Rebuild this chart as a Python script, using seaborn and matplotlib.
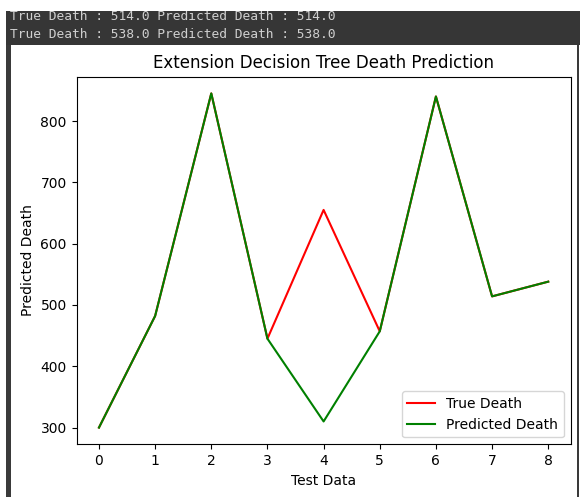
import matplotlib
matplotlib.use("Agg")
import matplotlib.pyplot as plt
import seaborn as sns
import pandas as pd
from matplotlib.patches import Rectangle

# ---- data ----
test_index = [0, 1, 2, 3, 4, 5, 6, 7, 8]
true_death = [300, 482, 845, 445, 655, 457, 840, 514, 538]
predicted_death = [300, 482, 845, 445, 310, 457, 840, 514, 538]
console_lines = [
    "True Death : 514.0 Predicted Death : 514.0",
    "True Death : 538.0 Predicted Death : 538.0",
]
title = "Extension Decision Tree Death Prediction"

W, H = 580, 497
fig = plt.figure(figsize=(W / 100, H / 100), dpi=100)
fig.patch.set_facecolor("white")


def px_rect(x0, y0, x1, y1, color, z):
    r = Rectangle((x0 / W, 1 - y1 / H), (x1 - x0) / W, (y1 - y0) / H,
                  transform=fig.transFigure, facecolor=color, edgecolor="none",
                  zorder=z)
    fig.patches.append(r)


# console band and window borders
px_rect(6, 11, 580, 45, "#363636", 1)
px_rect(6, 45, 10.5, 497, "#3a3a3a", 1)
px_rect(577, 45, 579, 497, "#3a3a3a", 1)

for y, line in zip([16, 35], console_lines):
    fig.text(10 / W, 1 - y / H, line, family="DejaVu Sans Mono",
             fontsize=9.3, color="#cfcfcf", va="center", ha="left", zorder=3)
# white cover above band (crops the first console line)
px_rect(0, 0, 580, 11, "white", 10)

l, r, t, b = 76.5, 570.7, 76.7, 444.3
ax = fig.add_axes([l / W, 1 - b / H, (r - l) / W, (b - t) / H])

df = pd.DataFrame({"x": test_index, "true": true_death, "pred": predicted_death})
sns.lineplot(data=df, x="x", y="true", color="red", label="True Death", ax=ax)
sns.lineplot(data=df, x="x", y="pred", color="green", label="Predicted Death", ax=ax)

ax.set_title(title, fontsize=12)
ax.set_xlabel("Test Data")
ax.set_ylabel("Predicted Death")
ax.set_xticks(test_index)
ax.set_yticks([300, 400, 500, 600, 700, 800])
ax.legend(loc="lower right")

fig.savefig("out.png", dpi=100)
